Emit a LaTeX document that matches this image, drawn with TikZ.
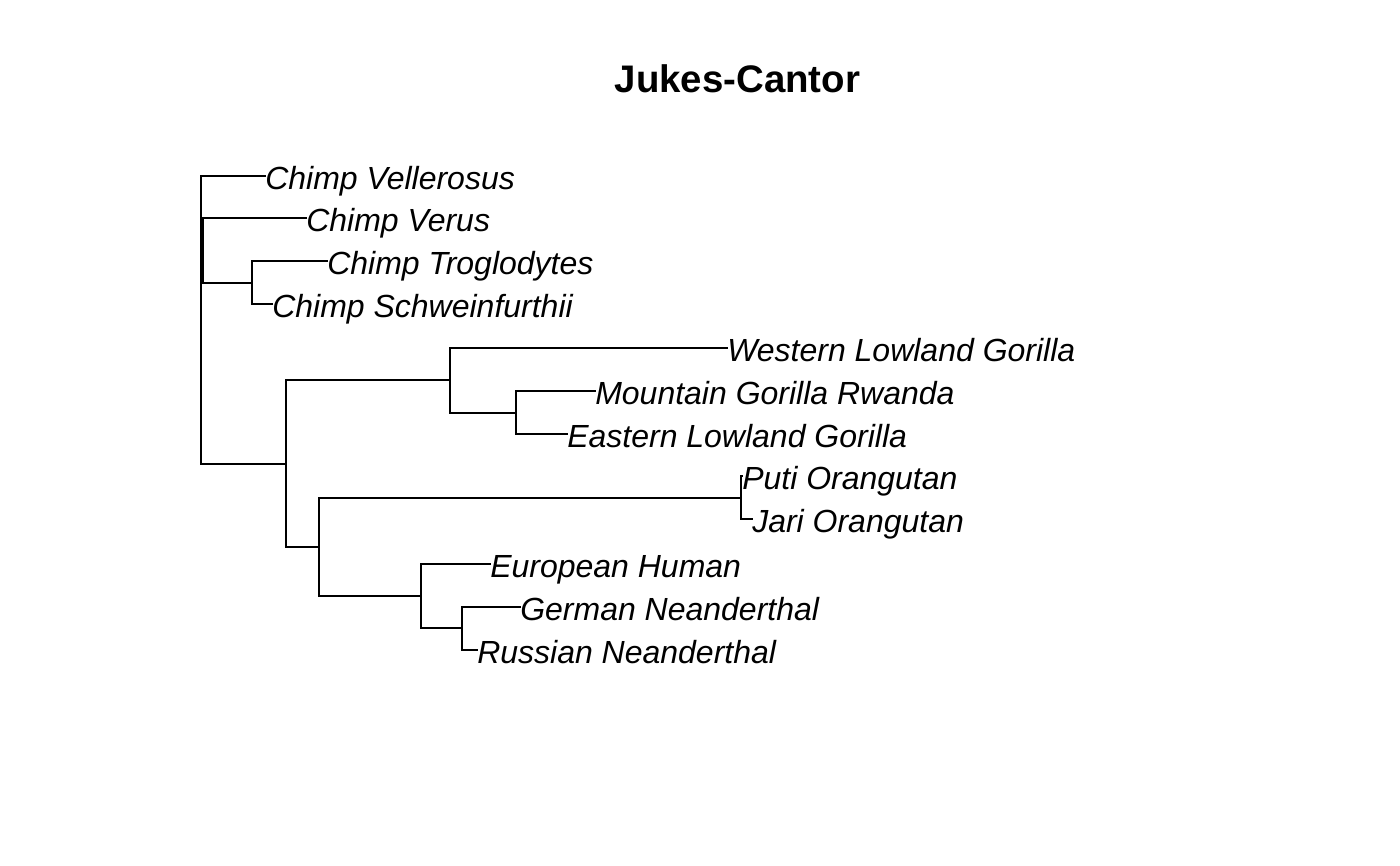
\documentclass[tikz,border=0pt]{standalone}
\usepackage{fontspec}
\setmainfont{Liberation Sans}
\usepackage{tikz}
\usetikzlibrary{positioning}

\begin{document}
\begin{tikzpicture}[x={(0.75pt,0)},y={(0,-0.75pt)},
    branch/.style={line width=1.4pt,line cap=rect},
    tiplabel/.style={anchor=base west,inner sep=0pt,yshift=-10.3pt,
      font=\fontsize{24}{28}\selectfont\itshape}]
  \useasboundingbox (0,0) rectangle (1400,865);
  \node[font=\fontsize{28.8}{34}\selectfont\bfseries,anchor=base,inner sep=0pt] (title) at (737.5,92) {Jukes-Cantor};
  % internal nodes
  \coordinate (root) at (201,297);
  \coordinate (chimps) at (203,251);
  \coordinate (trogschw) at (252,283);
  \coordinate (rest) at (286,464);
  \coordinate (gorillas) at (450,380);
  \coordinate (eastgor) at (516,413);
  \coordinate (orahum) at (319,547);
  \coordinate (orang) at (741,498);
  \coordinate (homo) at (421,596);
  \coordinate (neand) at (462,628);
  % tips
  \coordinate (vel) at (265,176);
  \coordinate (ver) at (306,218);
  \coordinate (tro) at (327,261);
  \coordinate (sch) at (272,304);
  \coordinate (wlg) at (727,348);
  \coordinate (mgr) at (595,391);
  \coordinate (elg) at (567,434);
  \coordinate (put) at (742,476);
  \coordinate (jar) at (752,519);
  \coordinate (eur) at (490,564);
  \coordinate (ger) at (520,607);
  \coordinate (rus) at (477,650);
  \node[tiplabel] (velL) at (vel) {Chimp Vellerosus};
  \node[tiplabel] (verL) at (ver) {Chimp Verus};
  \node[tiplabel] (troL) at (tro) {Chimp Troglodytes};
  \node[tiplabel] (schL) at (sch) {Chimp Schweinfurthii};
  \node[tiplabel] (wlgL) at (wlg) {Western Lowland Gorilla};
  \node[tiplabel] (mgrL) at (mgr) {Mountain Gorilla Rwanda};
  \node[tiplabel] (elgL) at (elg) {Eastern Lowland Gorilla};
  \node[tiplabel] (putL) at (put) {Puti Orangutan};
  \node[tiplabel] (jarL) at (jar) {Jari Orangutan};
  \node[tiplabel] (eurL) at (eur) {European Human};
  \node[tiplabel] (gerL) at (ger) {German Neanderthal};
  \node[tiplabel] (rusL) at (rus) {Russian Neanderthal};
  % branches
  \draw[branch] (root) |- (vel);
  \draw[branch] (root) |- (chimps);
  \draw[branch] (root) |- (rest);
  \draw[branch] (chimps) |- (ver);
  \draw[branch] (chimps) |- (trogschw);
  \draw[branch] (trogschw) |- (tro);
  \draw[branch] (trogschw) |- (sch);
  \draw[branch] (rest) |- (gorillas);
  \draw[branch] (rest) |- (orahum);
  \draw[branch] (gorillas) |- (wlg);
  \draw[branch] (gorillas) |- (eastgor);
  \draw[branch] (eastgor) |- (mgr);
  \draw[branch] (eastgor) |- (elg);
  \draw[branch] (orahum) |- (orang);
  \draw[branch] (orahum) |- (homo);
  \draw[branch] (orang) |- (put);
  \draw[branch] (orang) |- (jar);
  \draw[branch] (homo) |- (eur);
  \draw[branch] (homo) |- (neand);
  \draw[branch] (neand) |- (ger);
  \draw[branch] (neand) |- (rus);
\end{tikzpicture}
\end{document}
